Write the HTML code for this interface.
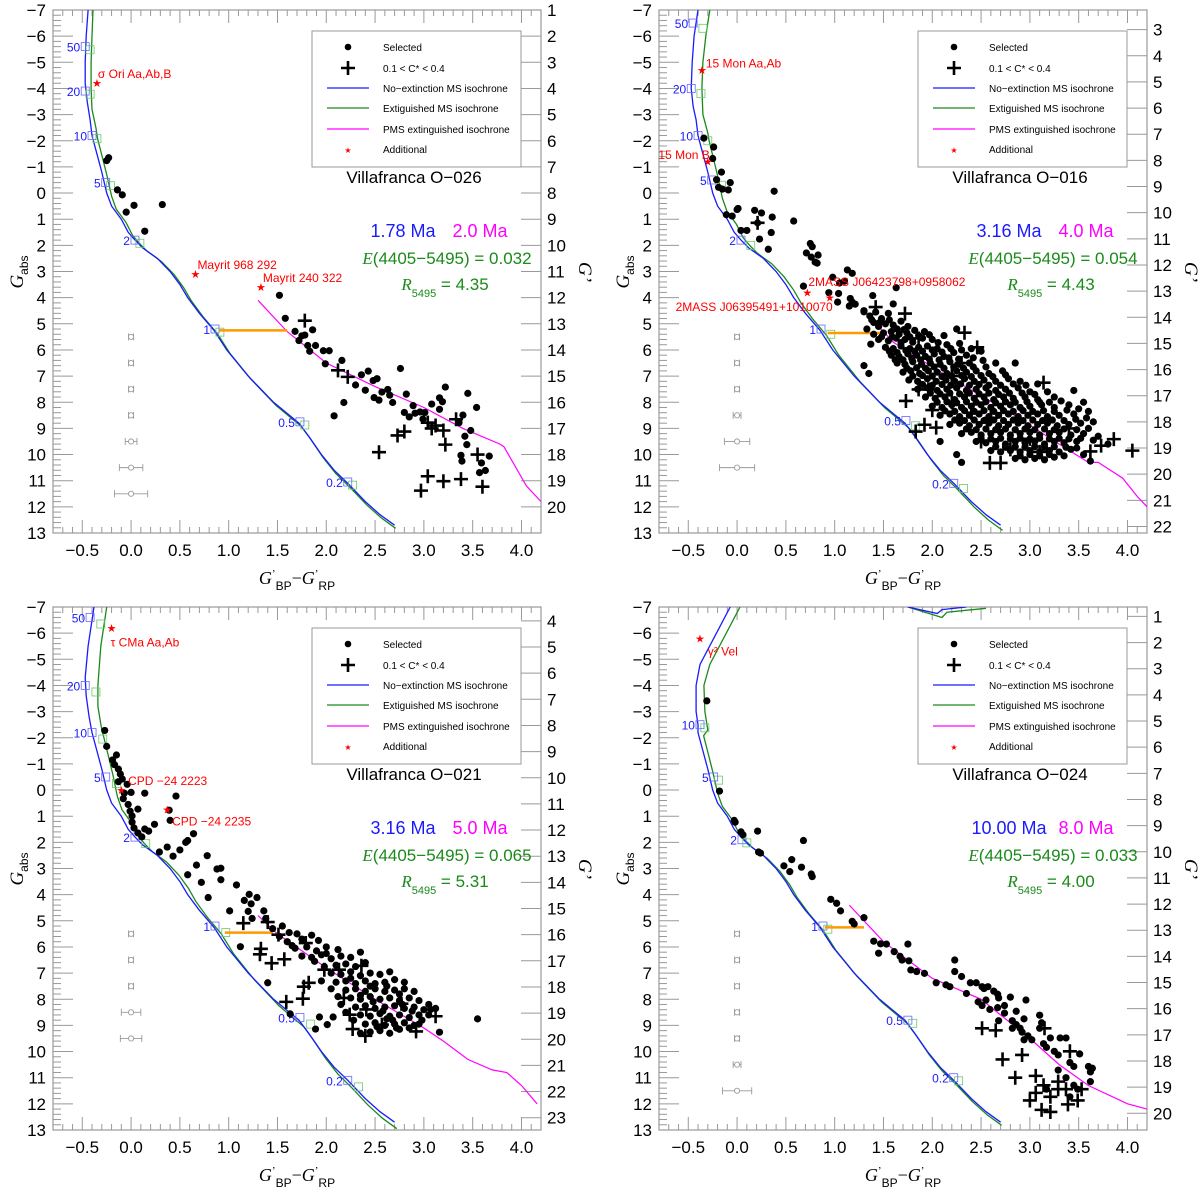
<!DOCTYPE html>
<html><head><meta charset="utf-8"><style>
html,body{margin:0;padding:0;background:#fff;}
svg{display:block;font-family:"Liberation Sans",sans-serif;}
</style></head><body>
<svg id="fig" width="1200" height="1190" viewBox="0 0 1200 1190" xmlns="http://www.w3.org/2000/svg"></svg>
<script>
// ---------- shared isochrone (lower part) ----------
const msLowerC=[-0.40,-0.35,-0.30,-0.25,-0.20,-0.10,-0.03,0.04,0.12,0.27,0.40,0.50,0.58,0.70,0.85,0.98,1.20,1.46,1.72,1.82,1.95,2.08,2.22,2.40,2.55,2.70];
const msLowerG=[-2.2,-1.5,-0.8,0.0,0.5,1.0,1.5,1.8,2.1,2.5,3.0,3.5,4.0,4.6,5.25,6.0,7.0,8.0,8.8,9.3,10.0,10.6,11.1,11.8,12.3,12.7];
const massLabels=["50","20","10","5","2","1","0.5","0.2"];

// ---------- panel 1: Villafranca O-026 ----------
const p1Dots=[[-0.25,-1.24],[-0.23,-1.35],[-0.14,-0.12],[-0.09,0.07],[-0.05,0.73],[0.03,0.47],[0.14,1.46],[0.32,0.44],[1.52,3.91],[1.58,4.79],[1.68,5.29],[1.72,5.64],[1.75,5.46],[1.78,5.43],[1.86,5.23],[1.81,5.83],[1.83,6.05],[1.89,5.83],[1.97,6.03],[2.03,6.03],[1.99,6.53],[2.16,6.40],[2.36,6.95],[2.43,6.81],[2.52,7.10],[2.48,7.17],[2.30,7.34],[2.40,7.54],[2.57,7.61],[2.49,7.82],[2.54,7.92],[2.63,7.51],[2.65,7.73],[2.68,8.01],[2.76,6.71],[2.82,7.69],[2.89,8.13],[2.80,8.39],[2.85,8.56],[2.91,8.42],[2.96,8.37],[2.99,8.64],[3.01,8.39],[3.08,8.07],[3.16,7.83],[3.22,7.42],[3.19,7.98],[3.16,8.27],[3.36,8.78],[3.40,8.49],[3.45,7.66],[3.48,9.08],[3.54,8.20],[3.42,9.30],[3.44,9.62],[3.38,10.03],[3.39,10.25],[3.57,10.69],[3.63,10.61],[3.67,10.06],[3.59,10.32],[2.08,8.52],[2.18,8.01]];
const p1Cross=[[1.78,4.88],[2.12,6.78],[2.22,7.03],[2.73,9.27],[2.80,9.12],[2.54,9.91],[2.97,11.38],[3.04,10.83],[3.20,11.02],[3.38,10.94],[3.60,11.23],[3.55,10.0],[3.22,9.62],[3.20,9.08],[3.08,9.0],[3.04,8.78],[3.33,8.65],[3.12,8.89]];
const p1Pms=[[1.30,4.1],[1.60,5.3],[2.0,6.5],[2.5,7.4],[3.0,8.2],[3.4,9.0],[3.78,9.6],[3.82,9.7],[4.05,11.2],[4.2,11.8]];
const p1BlueUp=[[-0.44,-7],[-0.46,-6],[-0.47,-5],[-0.47,-4.2],[-0.45,-3.5],[-0.42,-2.8]];
const p1GreenUp=[[-0.39,-7],[-0.40,-6],[-0.41,-5],[-0.41,-4],[-0.40,-3.2],[-0.36,-2.5]];
const p1Boxes=[[-0.47,-5.6],[-0.47,-3.9],[-0.40,-2.2],[-0.26,-0.4],[0.04,1.8],[0.86,5.2],[1.73,8.75],[2.22,11.05]];
const p1ErrG=[5.5,6.5,7.5,8.5,9.5,10.5,11.5];
const p1ErrW=[0.01,0.01,0.015,0.02,0.06,0.12,0.17];

// ---------- panel 2: Villafranca O-016 ----------
const p2Dots=[[-0.34,-2.1],[-0.24,-1.76],[-0.25,-1.32],[-0.16,-0.80],[-0.21,-0.51],[-0.07,-0.40],[-0.19,-0.22],[-0.15,-0.15],[-0.09,-0.12],[0.38,-0.07],[-0.11,0.83],[-0.05,0.88],[0.0,0.63],[0.01,0.59],[0.18,0.66],[0.25,0.76],[0.36,0.92],[0.58,1.07],[0.21,1.14],[0.04,1.43],[0.10,1.43],[0.35,1.51],[0.23,1.76],[0.32,2.15],[0.75,1.93],[0.77,2.05],[0.71,2.29],[0.76,2.45],[0.83,2.37],[0.80,2.64],[0.82,2.68],[0.98,3.22],[1.13,2.94],[1.18,3.07],[1.05,3.44],[1.10,3.37],[0.68,3.56],[0.94,3.81],[1.04,3.84],[1.03,4.17],[1.16,4.03],[1.18,4.17],[1.15,4.32],[1.21,4.25],[1.63,3.62],[1.39,3.92],[1.60,4.24],[1.30,4.54],[1.37,5.78],
[1.30,4.5],[1.36,4.7],[1.42,4.55],[1.48,4.8],[1.40,4.95],[1.55,4.6],[1.33,5.2],[1.45,5.1],[1.52,5.0],[1.60,5.05],[1.68,4.9],[1.75,5.1],[1.40,5.4],[1.50,5.35],[1.58,5.3],[1.66,5.4],[1.74,5.35],[1.82,5.25],[1.92,5.3],[1.45,5.6],[1.55,5.65],[1.63,5.55],[1.72,5.6],[1.80,5.7],[1.90,5.55],[2.00,5.6],[2.12,5.45],[2.25,5.2],[1.52,5.9],[1.60,5.95],[1.68,5.85],[1.77,5.95],[1.86,5.9],[1.95,5.85],[2.05,5.95],[2.15,5.8],[2.28,5.75],[2.40,5.95],[1.58,6.2],[1.66,6.25],[1.75,6.15],[1.84,6.2],[1.93,6.25],[2.02,6.15],[2.12,6.25],[2.22,6.1],[2.35,6.2],[2.50,6.05],[1.30,6.6],[1.35,6.9],[1.64,6.5],[1.72,6.55],[1.80,6.45],[1.89,6.55],[1.98,6.5],[2.08,6.55],[2.18,6.45],[2.28,6.55],[2.38,6.5],[2.52,6.4],[2.65,6.5],[1.70,6.85],[1.78,6.8],[1.87,6.9],[1.96,6.8],[2.05,6.85],[2.15,6.9],[2.25,6.8],[2.35,6.85],[2.45,6.8],[2.58,6.9],[2.72,6.8],[2.85,6.5],[1.76,7.15],[1.85,7.2],[1.95,7.1],[2.04,7.2],[2.14,7.15],[2.23,7.2],[2.33,7.1],[2.43,7.2],[2.53,7.15],[2.65,7.2],[2.78,7.1],[2.90,7.2],[1.85,7.5],[1.95,7.45],[2.05,7.55],[2.15,7.5],[2.25,7.45],[2.35,7.55],[2.45,7.5],[2.55,7.45],[2.65,7.55],[2.75,7.5],[2.88,7.45],[3.00,7.6],[3.08,7.3],[1.93,7.8],[2.03,7.85],[2.13,7.8],[2.23,7.9],[2.33,7.8],[2.43,7.85],[2.53,7.8],[2.63,7.9],[2.73,7.8],[2.83,7.85],[2.95,7.8],[3.08,7.9],[3.25,7.8],[3.45,7.55],[2.00,8.15],[2.10,8.2],[2.20,8.1],[2.30,8.2],[2.40,8.15],[2.50,8.1],[2.60,8.2],[2.70,8.15],[2.80,8.1],[2.90,8.2],[3.00,8.15],[3.12,8.1],[3.25,8.2],[3.40,8.1],[3.55,8.0],[2.08,8.5],[2.18,8.45],[2.28,8.55],[2.38,8.5],[2.48,8.45],[2.58,8.55],[2.68,8.5],[2.78,8.45],[2.88,8.55],[2.98,8.5],[3.08,8.45],[3.18,8.55],[3.30,8.5],[3.45,8.45],[3.60,8.35],[2.18,8.85],[2.28,8.8],[2.38,8.9],[2.48,8.85],[2.58,8.8],[2.68,8.9],[2.78,8.85],[2.88,8.8],[2.98,8.9],[3.08,8.85],[3.18,8.8],[3.28,8.9],[3.40,8.85],[3.52,8.8],[3.65,8.75],[2.30,9.2],[2.40,9.15],[2.50,9.25],[2.60,9.2],[2.70,9.15],[2.80,9.25],[2.90,9.2],[3.00,9.15],[3.10,9.25],[3.20,9.2],[3.30,9.15],[3.42,9.25],[3.55,9.2],[3.70,9.3],[2.08,9.5],[2.45,9.5],[2.55,9.55],[2.65,9.5],[2.75,9.6],[2.85,9.5],[2.95,9.55],[3.05,9.5],[3.15,9.6],[3.25,9.5],[3.35,9.55],[3.48,9.5],[3.80,9.6],[2.60,9.85],[2.70,9.9],[2.80,9.85],[2.90,9.9],[3.00,9.85],[3.10,9.9],[3.20,9.85],[3.30,9.9],[3.42,9.8],[3.55,10.0],[2.85,10.15],[2.95,10.2],[3.05,10.15],[3.15,10.2],[3.25,10.1],[2.25,10.0],[2.30,10.3],[3.62,10.25]];
const p2DotsExtra=[[1.38,4.85],[1.46,4.95],[1.56,4.85],[1.64,5.2],[1.71,5.22],[1.48,5.5],[1.59,5.5],[1.68,5.72],[1.77,5.5],[1.86,5.45],[1.97,5.42],[2.06,5.72],[1.56,6.05],[1.64,6.1],[1.73,6.02],[1.82,6.05],[1.90,6.05],[2.00,6.0],[2.10,6.08],[2.19,5.95],[2.30,6.0],[1.62,6.38],[1.70,6.38],[1.79,6.32],[1.88,6.38],[1.97,6.35],[2.07,6.38],[2.17,6.3],[2.27,6.35],[2.42,6.3],[1.74,6.7],[1.84,6.68],[1.93,6.7],[2.02,6.65],[2.12,6.7],[2.22,6.65],[2.32,6.7],[2.42,6.65],[2.55,6.65],[1.80,7.0],[1.90,6.98],[2.00,7.0],[2.10,7.02],[2.20,7.0],[2.30,6.98],[2.40,7.02],[2.50,6.98],[2.62,7.02],[2.75,6.95],[1.90,7.32],[2.00,7.35],[2.10,7.32],[2.19,7.35],[2.29,7.3],[2.38,7.35],[2.48,7.32],[2.58,7.35],[2.70,7.35],[2.83,7.3],[2.96,7.35],[1.98,7.65],[2.08,7.68],[2.18,7.65],[2.28,7.68],[2.38,7.65],[2.48,7.68],[2.58,7.65],[2.68,7.7],[2.79,7.65],[2.92,7.65],[3.05,7.7],[3.18,7.6],[2.05,8.0],[2.15,7.98],[2.25,8.02],[2.35,7.98],[2.45,8.0],[2.55,7.98],[2.65,8.02],[2.75,7.98],[2.85,8.0],[2.97,7.98],[3.10,8.0],[3.20,8.0],[3.32,7.95],[2.13,8.33],[2.23,8.35],[2.33,8.32],[2.43,8.35],[2.53,8.32],[2.63,8.35],[2.73,8.32],[2.83,8.35],[2.93,8.32],[3.03,8.35],[3.14,8.32],[3.25,8.35],[3.38,8.3],[3.50,8.25],[2.23,8.68],[2.33,8.7],[2.43,8.68],[2.53,8.7],[2.63,8.68],[2.73,8.7],[2.83,8.68],[2.93,8.7],[3.03,8.68],[3.13,8.7],[3.23,8.68],[3.35,8.7],[3.47,8.65],[3.58,8.6],[2.35,9.02],[2.45,9.05],[2.55,9.02],[2.65,9.05],[2.75,9.02],[2.85,9.05],[2.95,9.02],[3.05,9.05],[3.15,9.02],[3.25,9.05],[3.35,9.02],[3.48,9.05],[3.60,9.0],[2.50,9.38],[2.60,9.4],[2.70,9.38],[2.80,9.4],[2.90,9.38],[3.00,9.4],[3.10,9.38],[3.20,9.4],[3.30,9.38],[3.40,9.4],[3.52,9.38],[3.65,9.45],[2.65,9.7],[2.75,9.72],[2.85,9.7],[2.95,9.72],[3.05,9.7],[3.15,9.72],[3.25,9.7],[3.37,9.72],[3.48,9.75],[2.90,10.05],[3.00,10.0],[3.10,10.05],[3.20,10.0],[3.35,10.05]];
const p2Cross=[[0.21,1.14],[1.42,4.36],[1.72,4.61],[1.86,5.56],[2.33,5.34],[2.46,5.90],[3.14,7.25],[1.73,7.95],[1.86,7.51],[1.96,7.51],[1.92,8.86],[2.04,8.97],[1.83,9.12],[3.86,9.41],[4.05,9.85],[3.73,9.66],[3.62,9.88],[2.59,10.32],[2.70,10.32],[2.0,8.3],[2.2,8.0],[2.4,8.4],[2.6,8.6],[3.0,9.4],[3.1,9.9],[3.4,9.0],[2.3,6.5],[2.2,7.0],[2.8,9.8],[2.5,9.5]];
const p2Pms=[[1.35,4.7],[1.6,5.7],[1.85,6.3],[2.2,7.1],[2.8,8.4],[3.3,9.6],[3.6,10.3],[3.7,10.3],[3.95,10.9],[4.1,11.6],[4.2,12.0]];
const p2BlueUp=[[-0.40,-7],[-0.44,-6],[-0.46,-5],[-0.47,-4],[-0.45,-3.3],[-0.42,-2.8]];
const p2GreenUp=[[-0.28,-7],[-0.32,-6],[-0.35,-5],[-0.36,-4],[-0.35,-3],[-0.30,-2.3]];
const p2Boxes=[[-0.45,-6.5],[-0.47,-4.0],[-0.40,-2.2],[-0.26,-0.5],[0.04,1.8],[0.86,5.2],[1.73,8.7],[2.22,11.1]];
const p2ErrG=[5.5,6.5,7.5,8.5,9.5,10.5];
const p2ErrW=[0.01,0.01,0.015,0.04,0.13,0.18];

// ---------- panel 3: Villafranca O-021 ----------
const p3Dots=[[-0.27,-2.28],[-0.25,-1.67],[-0.15,-1.34],[-0.19,-1.15],[-0.17,-0.97],[-0.13,-0.80],[-0.11,-0.61],[-0.09,-0.42],[-0.13,-0.32],[-0.04,-0.22],[-0.07,0.12],[0.0,0.09],[0.14,0.12],[0.46,0.23],[-0.08,0.33],[-0.03,0.55],[-0.01,0.81],[0.01,0.99],[0.07,0.73],[0.01,1.23],[0.03,1.45],[0.07,1.64],[0.11,1.79],[0.14,1.49],[0.18,1.57],[0.24,1.31],[0.39,0.77],[0.40,1.16],[0.29,2.37],[0.37,2.18],[0.43,2.53],[0.50,2.29],[0.56,2.00],[0.58,1.93],[0.64,1.67],[0.58,3.24],[0.67,2.87],[0.72,3.53],[0.78,2.51],[0.79,4.11],[0.88,3.02],[0.92,2.99],[0.92,3.43],[1.08,3.63],[1.01,4.62],[1.16,4.22],[1.21,3.99],[1.23,4.35],[1.20,4.64],[1.29,4.11],[1.36,4.62],[1.38,4.91],[1.24,4.91],[1.12,5.99],[1.40,7.37],[1.63,8.56],[1.93,8.68],[2.01,8.97],[2.07,8.68],[1.89,9.14],[3.55,8.75],[3.16,9.26],[3.07,8.39],
[1.45,5.3],[1.55,5.2],[1.62,5.45],[1.52,5.6],[1.70,5.5],[1.60,5.8],[1.75,5.7],[1.85,5.55],[1.92,5.75],[1.68,6.05],[1.80,6.0],[1.90,6.15],[2.00,6.0],[2.12,6.1],[1.75,6.35],[1.85,6.4],[1.95,6.3],[2.05,6.45],[2.15,6.35],[2.25,6.4],[2.35,6.2],[2.10,6.7],[2.20,6.65],[2.30,6.75],[2.40,6.6],[1.98,6.75],[2.05,7.0],[2.15,7.05],[2.25,6.95],[2.35,7.1],[2.45,7.0],[2.55,7.05],[2.65,6.95],[1.95,7.3],[2.10,7.35],[2.20,7.3],[2.30,7.4],[2.40,7.3],[2.50,7.4],[2.60,7.35],[2.70,7.25],[2.80,7.35],[2.20,7.65],[2.30,7.6],[2.40,7.7],[2.50,7.6],[2.60,7.7],[2.70,7.65],[2.80,7.6],[2.90,7.7],[2.25,7.95],[2.35,8.0],[2.45,7.9],[2.55,8.0],[2.65,7.95],[2.75,8.05],[2.85,7.95],[2.95,8.05],[3.05,8.2],[2.30,8.3],[2.40,8.25],[2.50,8.35],[2.60,8.3],[2.70,8.25],[2.80,8.35],[2.90,8.3],[3.00,8.4],[3.12,8.35],[2.35,8.6],[2.45,8.65],[2.55,8.55],[2.65,8.65],[2.75,8.6],[2.85,8.7],[2.95,8.6],[2.40,8.95],[2.50,8.9],[2.60,9.0],[2.70,8.95],[2.80,8.9],[2.90,9.0],[2.45,9.25],[2.55,9.2],[2.65,9.3],[2.35,9.3],[2.75,9.15],
[2.05,7.6],[2.12,7.9],[2.15,8.2],[2.20,8.5],[2.28,8.8],[2.35,7.85],[2.48,8.1],[2.58,8.45],[2.68,8.8],[2.78,8.2],[2.88,8.45],[2.98,8.8],[3.05,8.6],[2.52,9.05],[2.62,8.75],[2.72,9.1],[2.85,9.1],[2.95,8.95],[1.65,5.95],[1.88,6.55],[2.0,6.25],[2.25,7.2],[2.45,7.5],[2.62,7.5],[2.75,7.8]];
const p3Cross=[[1.15,5.09],[1.33,6.07],[1.32,6.28],[1.44,6.62],[1.57,6.47],[1.40,5.05],[1.51,5.53],[1.79,5.85],[1.77,7.52],[1.82,7.37],[1.76,7.98],[1.59,8.10],[2.13,6.87],[2.36,6.72],[3.12,8.65],[2.92,9.23],[2.40,9.40],[2.27,9.14],[2.24,8.59],[2.57,8.97],[1.98,6.87],[2.18,7.95],[2.41,8.39],[2.77,8.17]];
const p3Pms=[[1.30,4.8],[1.5,5.5],[2.0,6.8],[2.5,8.0],[3.0,9.1],[3.2,9.6],[3.45,10.3],[3.7,10.7],[3.85,10.8],[4.0,11.3],[4.16,12.0]];
const p3BlueUp=[[-0.38,-7],[-0.44,-5.5],[-0.47,-4.3],[-0.46,-3.6],[-0.43,-2.8]];
const p3GreenUp=[[-0.25,-7],[-0.31,-5.5],[-0.34,-4],[-0.34,-3.2],[-0.30,-2.3]];
const p3Boxes=[[-0.42,-6.6],[-0.47,-4.0],[-0.40,-2.2],[-0.26,-0.5],[0.04,1.8],[0.86,5.2],[1.73,8.7],[2.22,11.1]];
const p3ErrG=[5.5,6.5,7.5,8.5,9.5];
const p3ErrW=[0.01,0.01,0.02,0.1,0.11];

// ---------- panel 4: Villafranca O-024 ----------
const p4Dots=[[-0.31,-3.41],[-0.18,0.04],[-0.03,1.16],[-0.02,1.23],[0.04,1.60],[0.06,1.71],[0.21,1.57],[0.22,2.37],[0.24,2.41],[0.68,1.93],[0.48,2.90],[0.54,3.12],[0.56,2.66],[0.66,2.95],[0.76,3.21],[0.77,3.31],[0.96,4.18],[1.02,4.33],[1.06,4.62],[1.18,5.02],[1.20,5.12],[1.30,4.88],[1.40,5.78],[1.45,6.24],[1.47,5.88],[1.53,5.89],[1.61,6.18],[1.67,6.36],[1.69,6.50],[1.75,5.89],[1.76,6.53],[1.78,6.88],[1.84,6.94],[1.92,7.01],[2.04,7.37],[2.14,7.45],[2.18,7.52],[2.23,6.50],[2.23,6.94],[2.30,7.13],[2.39,7.37],[2.45,7.37],[2.51,7.52],[2.53,7.59],[2.57,7.52],[2.63,7.69],[2.67,7.81],[2.68,7.95],[2.80,7.92],[2.96,8.03],[2.35,7.78],[2.47,8.10],[2.51,8.24],[2.59,8.39],[2.67,8.32],[2.74,8.53],[2.82,8.82],[2.86,8.97],[2.90,9.11],[2.92,9.26],[2.94,8.75],[2.98,9.40],[3.02,9.55],[3.10,8.61],[3.12,8.90],[3.14,9.70],[3.21,9.48],[3.25,9.99],[3.29,10.13],[3.31,9.48],[3.37,9.48],[3.41,10.42],[3.45,10.57],[3.51,10.09],[3.60,10.57],[3.62,10.78],[3.64,10.64],[3.62,11.15],[3.10,9.11],[3.17,9.84],[3.29,10.71],[3.37,11.00],[3.45,11.29],[3.49,11.44],[3.41,11.73],[3.17,11.44],[2.94,9.55],[2.82,9.11],[2.74,8.24],[2.68,8.82],[2.86,8.46],[2.55,8.03]];
const p4Cross=[[2.51,9.11],[2.65,9.19],[2.72,10.30],[2.85,11.0],[3.0,11.87],[3.12,12.23],[3.06,10.93],[3.15,9.11],[2.92,10.13],[3.14,11.29],[3.21,11.73],[3.29,11.44],[3.39,12.02],[3.49,11.87],[3.41,9.99],[3.29,11.15],[3.06,11.58],[3.37,11.44],[3.53,11.44],[3.21,12.31]];
const p4Pms=[[1.15,4.4],[1.5,5.8],[2.0,7.2],[2.5,8.0],[3.0,9.5],[3.3,10.5],[3.6,11.3],[4.0,12.0],[4.2,12.2]];
const p4BlueUp=[[-0.07,-7],[-0.38,-4.8],[-0.42,-4],[-0.42,-3],[-0.40,-2.5]];
const p4GreenUp=[[0.03,-7],[-0.28,-4.8],[-0.34,-4],[-0.33,-3],[-0.30,-2.3]];
const p4BlueLoop=[[1.75,-7],[2.05,-6.75],[2.1,-6.9],[2.35,-7]];
const p4GreenLoop=[[1.75,-7],[2.1,-6.6],[2.15,-6.8],[2.55,-6.95]];
const p4Boxes=[[-0.38,-2.5],[-0.24,-0.5],[0.05,1.9],[0.88,5.2],[1.75,8.8],[2.22,11.0]];
const p4ErrG=[5.5,6.5,7.5,8.5,9.5,10.5,11.5];
const p4ErrW=[0.01,0.01,0.01,0.01,0.01,0.04,0.15];

const NS="http://www.w3.org/2000/svg";
const svg=document.getElementById('fig');
const W=488,H=523;
function mk(tag,attrs,parent){const e=document.createElementNS(NS,tag);for(const k in attrs)e.setAttribute(k,attrs[k]);parent.appendChild(e);return e;}

const panels=[
 {ox:53,oy:10,off:8,dots:p1Dots,cross:p1Cross,pms:p1Pms,bu:p1BlueUp,gu:p1GreenUp,shift:[0.05,0.12],boxes:p1Boxes,labels:massLabels,errG:p1ErrG,errW:p1ErrW,orange:[0.9,1.6,5.25],title:"Villafranca O\u2212026",age1:"1.78 Ma",age2:"2.0 Ma",E:"0.032",R:"4.35",
  stars:[[-0.35,-4.2,"\u03c3 Ori Aa,Ab,B",-0.34,-4.55,"start"],[0.66,3.1,"Mayrit 968 292",0.68,2.75,"start"],[1.33,3.6,"Mayrit 240 322",1.35,3.25,"start"]]},
 {ox:659,oy:10,off:9.25,dots:p2Dots.concat(p2DotsExtra),cross:p2Cross,pms:p2Pms,bu:p2BlueUp,gu:p2GreenUp,shift:[0.1,0.2],boxes:p2Boxes,labels:massLabels,errG:p2ErrG,errW:p2ErrW,orange:[0.93,1.52,5.35],title:"Villafranca O\u2212016",age1:"3.16 Ma",age2:"4.0 Ma",E:"0.054",R:"4.43",
  stars:[[-0.36,-4.7,"15 Mon Aa,Ab",-0.32,-4.95,"start"],[-0.3,-1.2,"15 Mon B",-0.28,-1.45,"end"],[0.72,3.8,"2MASS J06423798+0958062",0.73,3.4,"start"],[0.95,4.0,"2MASS J06395491+1010070",0.98,4.35,"end"]]},
 {ox:53,oy:607,off:10.47,dots:p3Dots,cross:p3Cross,pms:p3Pms,bu:p3BlueUp,gu:p3GreenUp,shift:[0.11,0.25],boxes:p3Boxes,labels:massLabels,errG:p3ErrG,errW:p3ErrW,orange:[0.96,1.45,5.45],title:"Villafranca O\u2212021",age1:"3.16 Ma",age2:"5.0 Ma",E:"0.065",R:"5.31",
  stars:[[-0.2,-6.2,"\u03c4 CMa Aa,Ab",-0.21,-5.65,"start"],[-0.1,0.0,"CPD \u221224 2223",-0.03,-0.35,"start"],[0.37,0.75,"CPD \u221224 2235",0.42,1.2,"start"]]},
 {ox:659,oy:607,off:7.64,dots:p4Dots,cross:p4Cross,pms:p4Pms,bu:p4BlueUp,gu:p4GreenUp,shift:[0.05,0.12],boxes:p4Boxes,labels:["10","5","2","1","0.5","0.2"],errG:p4ErrG,errW:p4ErrW,orange:[0.9,1.3,5.25],title:"Villafranca O\u2212024",age1:"10.00 Ma",age2:"8.0 Ma",E:"0.033",R:"4.00",
  stars:[[-0.38,-5.8,"\u03b3\u00b2 Vel",-0.3,-5.3,"start"]],loops:true}
];

panels.forEach((P,pi)=>{
  const g=mk('g',{transform:`translate(${P.ox},${P.oy})`},svg);
  
  
  const X=c=>(c+0.8)*97.6, Y=m=>(m+7)*26.15;
  const clipId='clip'+pi;
  const cp=mk('clipPath',{id:clipId},g); mk('rect',{x:0,y:0,width:W,height:H},cp);
  const ax=mk('g',{stroke:'#999','stroke-width':1},g);
  
  
  for(let i=-8;i<=42;i++){const c=i/10;const x=X(c);if(x<0||x>W)continue;const L=(i%5===0)?13:6;
    mk('line',{x1:x,y1:H,x2:x,y2:H-L},ax);mk('line',{x1:x,y1:0,x2:x,y2:L},ax);}
  for(let i=-35;i<=65;i++){const m=i/5;const y=Y(m);if(y<0||y>H)continue;const L=(i%5===0)?20:8;
    mk('line',{x1:0,y1:y,x2:L,y2:y},ax);}
  for(let k=Math.ceil(-7+P.off);k<=Math.floor(13+P.off);k++){const y=Y(k-P.off);if(y<0.5||y>H-0.5)continue;mk('line',{x1:W,y1:y,x2:W-20,y2:y},ax);}
  const frame=mk('rect',{x:0,y:0,width:W,height:H,fill:'none',stroke:'#999','stroke-width':1.2},g);
  
  
  const xl=mk('g',{'font-size':17,'text-anchor':'middle',fill:'#000'},g);
  
  
  for(let i=-1;i<=8;i++){const c=i/2;const t=mk('text',{x:X(c),y:H+23},xl);t.textContent=(c<0?'\u2212':'')+Math.abs(c).toFixed(1);}
  const yl=mk('g',{'font-size':17,'text-anchor':'end',fill:'#000'},g);
  
  
  for(let m=-7;m<=13;m++){const t=mk('text',{x:-7,y:Y(m)+6},yl);t.textContent=(m<0?'\u2212':'')+Math.abs(m);}
  const rl=mk('g',{'font-size':17,'text-anchor':'start',fill:'#000'},g);
  
  
  for(let k=Math.ceil(-7+P.off);k<=Math.floor(12.9+P.off);k++){const t=mk('text',{x:W+6,y:Y(k-P.off)+6},rl);t.textContent=k;}
  const xt=mk('text',{x:244,y:H+51,'font-size':18,'text-anchor':'middle','font-family':'Liberation Serif, serif'},g);
  
  
  xt.innerHTML='<tspan font-style="italic">G</tspan><tspan font-size="11" dy="-7">\u2019</tspan><tspan font-size="12" dy="13" font-family="Liberation Sans">BP</tspan><tspan dy="-6">\u2212</tspan><tspan font-style="italic">G</tspan><tspan font-size="11" dy="-7">\u2019</tspan><tspan font-size="12" dy="13" font-family="Liberation Sans">RP</tspan>';
  const yt=mk('text',{transform:`translate(-30,262) rotate(-90)`,'font-size':19,'text-anchor':'middle','font-family':'Liberation Serif, serif'},g);
  
  
  yt.innerHTML='<tspan font-style="italic">G</tspan><tspan font-size="12" dy="5" font-family="Liberation Sans">abs</tspan>';
  const rt=mk('text',{transform:`translate(${W+38},262) rotate(90)`,'font-size':19,'text-anchor':'middle','font-family':'Liberation Serif, serif','font-style':'italic'},g);
  
  
  rt.textContent='G\u2019';

  const pg=mk('g',{'clip-path':`url(#${clipId})`},g);
  const pts=a=>a.map(p=>X(p[0]).toFixed(1)+','+Y(p[1]).toFixed(1)).join(' ');
  const blue=P.bu.concat(msLowerC.map((c,i)=>[c,msLowerG[i]]));
  const green=P.gu.concat(msLowerC.map((c,i)=>[c+P.shift[0]*(1-msLowerG[i]/16),msLowerG[i]+P.shift[1]]));
  const gl=mk('polyline',{points:pts(green),fill:'none',stroke:'#1a8a1a','stroke-width':1.3},pg);
  
  
  const bl=mk('polyline',{points:pts(blue),fill:'none',stroke:'#1a1aff','stroke-width':1.3},pg);
  
  
  if(P.loops){
    const l1=mk('polyline',{points:pts(p4GreenLoop),fill:'none',stroke:'#1a8a1a','stroke-width':1.3},pg);
    
    
    const l2=mk('polyline',{points:pts(p4BlueLoop),fill:'none',stroke:'#1a1aff','stroke-width':1.3},pg);
    
    
  }
  P.boxes.forEach((b,i)=>{
    const gb=mk('rect',{x:X(b[0]+P.shift[0])-4,y:Y(b[1]+P.shift[1])-4,width:8,height:8,fill:'none',stroke:'#6c6','stroke-width':0.8},pg);
    
    
    const bb=mk('rect',{x:X(b[0])-4,y:Y(b[1])-4,width:8,height:8,fill:'none',stroke:'#66f','stroke-width':0.8},pg);
    
    
    const t=mk('text',{x:X(b[0])-5,y:Y(b[1])+5,'font-size':12,'text-anchor':'end',fill:'#1a1aff'},pg);
    
    
    t.textContent=P.labels[i];
  });
  const pm=mk('polyline',{points:pts(P.pms),fill:'none',stroke:'#ff00ff','stroke-width':1.2},pg);
  
  
  const or=mk('line',{x1:X(P.orange[0]),x2:X(P.orange[1]),y1:Y(P.orange[2]),y2:Y(P.orange[2]),stroke:'#ff9900','stroke-width':2.5},pg);
  
  
  P.errG.forEach((m,i)=>{
    const eg=mk('g',{stroke:'#999','stroke-width':0.9,fill:'none'},pg);
    
    
    const x0=X(0),y0=Y(m),w=Math.max(P.errW[i]*97.6,2.5);
    mk('line',{x1:x0-w,x2:x0+w,y1:y0,y2:y0},eg);
    mk('line',{x1:x0-w,x2:x0-w,y1:y0-3.5,y2:y0+3.5},eg);
    mk('line',{x1:x0+w,x2:x0+w,y1:y0-3.5,y2:y0+3.5},eg);
    mk('circle',{cx:x0,cy:y0,r:2.6,fill:'#fff'},eg);
  });
  P.dots.forEach(d=>{
    const c=mk('circle',{cx:X(d[0]),cy:Y(d[1]),r:3.6,fill:'#000'},pg);
    
    
  });
  P.cross.forEach(d=>{
    const x=X(d[0]),y=Y(d[1]);
    const c=mk('path',{d:`M${x-7},${y}H${x+7}M${x},${y-7}V${y+7}`,stroke:'#000','stroke-width':2.6},pg);
    
    
  });
  P.stars.forEach(s=>{
    const st=mk('text',{x:X(s[0]),y:Y(s[1])+4,'font-size':11,'text-anchor':'middle',fill:'#ff0000'},g);
    
    
    st.textContent='\u2605';
    const lb=mk('text',{x:X(s[3]),y:Y(s[4])+4,'font-size':12,'text-anchor':s[5],fill:'#ff0000'},g);
    
    
    lb.textContent=s[2];
  });
  const lg=mk('g',{},g);
  
  
  mk('rect',{x:259,y:21,width:209,height:136,fill:'#fff',stroke:'#999','stroke-width':1},lg);
  const rows=[37,58,78,98,119,139];
  const names=["Selected","0.1 < C* < 0.4","No\u2212extinction MS isochrone","Extiguished MS isochrone","PMS extinguished isochrone","Additional"];
  names.forEach((n,i)=>{const t=mk('text',{x:330,y:rows[i]+4,'font-size':10,fill:'#000'},lg);t.textContent=n;});
  mk('circle',{cx:295,cy:rows[0],r:3.3,fill:'#000'},lg);
  mk('path',{d:`M288,${rows[1]}H302M295,${rows[1]-7}V${rows[1]+7}`,stroke:'#000','stroke-width':2.6},lg);
  mk('line',{x1:274,x2:316,y1:rows[2],y2:rows[2],stroke:'#1a1aff','stroke-width':1.3},lg);
  mk('line',{x1:274,x2:316,y1:rows[3],y2:rows[3],stroke:'#1a8a1a','stroke-width':1.3},lg);
  mk('line',{x1:274,x2:316,y1:rows[4],y2:rows[4],stroke:'#ff00ff','stroke-width':1.3},lg);
  const ls=mk('text',{x:295,y:rows[5]+4,'font-size':8,'text-anchor':'middle',fill:'#ff0000'},lg);ls.textContent='\u2605';
  const tt=mk('text',{x:361,y:173,'font-size':17,'text-anchor':'middle',fill:'#000'},g);
  
  
  tt.textContent=P.title;
  const a1=mk('text',{x:350,y:227,'font-size':18,'text-anchor':'middle',fill:'#1a1aff'},g);
  
  
  a1.textContent=P.age1;
  const a2=mk('text',{x:427,y:227,'font-size':18,'text-anchor':'middle',fill:'#ff00ff'},g);
  
  
  a2.textContent=P.age2;
  const e=mk('text',{x:394,y:254,'font-size':17,'text-anchor':'middle',fill:'#1a8a1a'},g);
  
  
  e.innerHTML='<tspan font-style="italic" font-family="Liberation Serif, serif">E</tspan>(4405\u22125495) = '+P.E;
  const r=mk('text',{x:392,y:280,'font-size':17,'text-anchor':'middle',fill:'#1a8a1a'},g);
  
  
  r.innerHTML='<tspan font-style="italic" font-family="Liberation Serif, serif">R</tspan><tspan font-size="11" dy="7">5495</tspan><tspan dy="-7"> = '+P.R+'</tspan>';
});
</script>
</body></html>
